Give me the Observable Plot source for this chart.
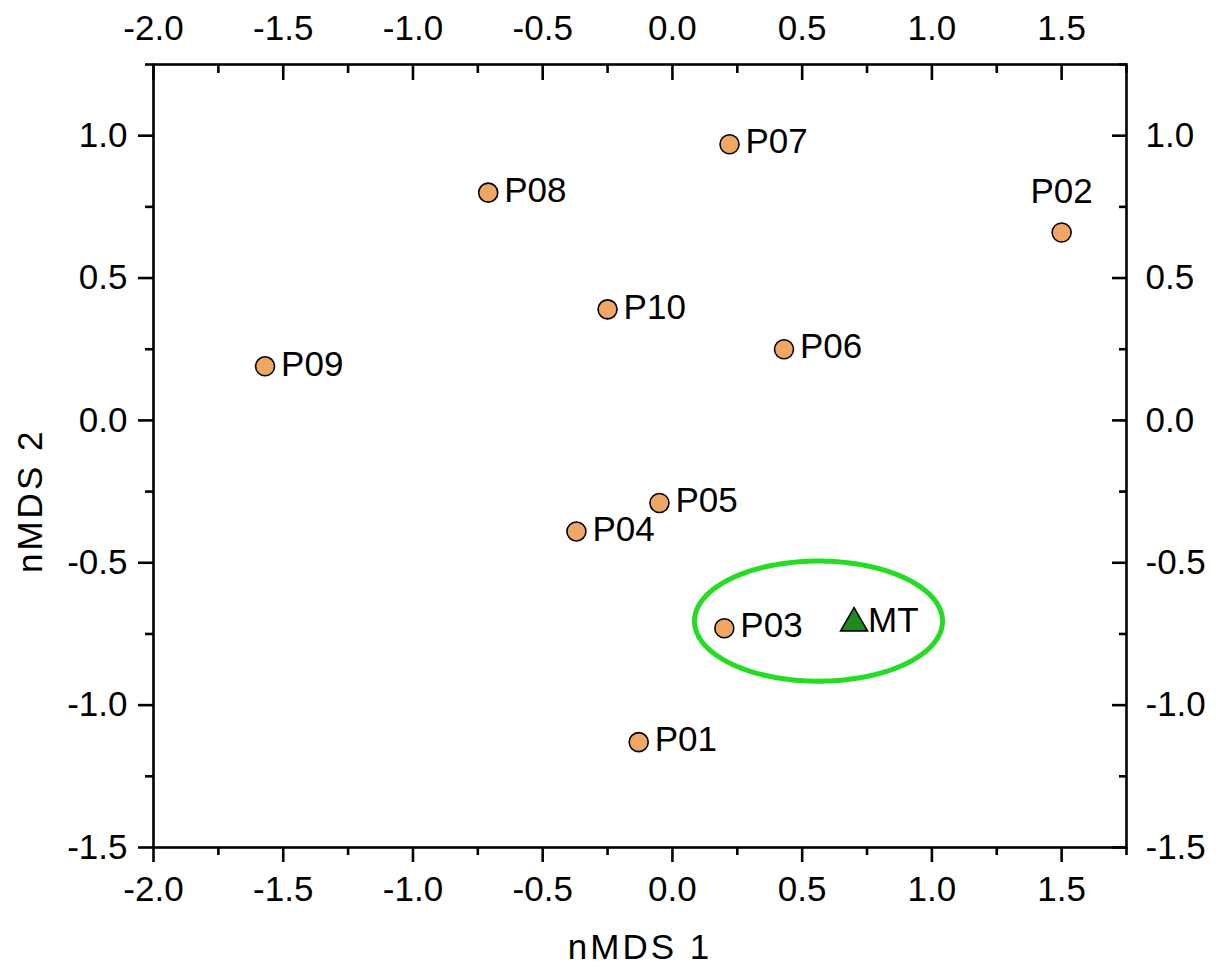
<!DOCTYPE html>
<html>
<head>
<meta charset="utf-8">
<script src="https://cdn.jsdelivr.net/npm/d3@7"></script>
<script src="https://cdn.jsdelivr.net/npm/@observablehq/plot@0.6"></script>
<style>
  html, body { margin: 0; padding: 0; background: #fff; }
  #chart svg { display: block; }
</style>
</head>
<body>
<div id="chart"></div>
<script>
// Sites (nMDS ordination scores)
const siteNames = ["P01", "P02", "P03", "P04", "P05", "P06", "P07", "P08", "P09", "P10"];
const siteNMDS1 = [-0.13, 1.50, 0.20, -0.37, -0.05, 0.43, 0.22, -0.71, -1.57, -0.25];
const siteNMDS2 = [-1.13, 0.66, -0.73, -0.39, -0.29, 0.25, 0.97, 0.80, 0.19, 0.39];

// Reference point
const refNames = ["MT"];
const refNMDS1 = [0.70];
const refNMDS2 = [-0.712];

// Highlight ellipse (center and radii in data units)
const ellipseCenter = [0.563, -0.705];
const ellipseRadii = [0.478, 0.211];

// Ticks
const majorTicksX = [-2.0, -1.5, -1.0, -0.5, 0.0, 0.5, 1.0, 1.5];
const minorTicksX = [-1.75, -1.25, -0.75, -0.25, 0.25, 0.75, 1.25, 1.75];
const majorTicksY = [-1.5, -1.0, -0.5, 0.0, 0.5, 1.0];
const minorTicksY = [-1.25, -0.75, -0.25, 0.25, 0.75, 1.25];

const axisTitleX = "nMDS 1";
const axisTitleY = "nMDS 2";

const sites = siteNames.map((name, i) => ({name, x: siteNMDS1[i], y: siteNMDS2[i]}));
const refs = refNames.map((name, i) => ({name, x: refNMDS1[i], y: refNMDS2[i]}));
const ellipse = d3.range(0, 201).map(k => {
  const t = (k / 200) * 2 * Math.PI;
  return {x: ellipseCenter[0] + ellipseRadii[0] * Math.cos(t), y: ellipseCenter[1] + ellipseRadii[1] * Math.sin(t)};
});

const fmt = v => d3.format(".1f")(v).replace("\u2212", "-");
const noLabel = () => "";
const FS = 35;
const SW = 2.6;

const chart = Plot.plot({
  width: 1218,
  height: 967,
  marginLeft: 153,
  marginRight: 92,
  marginTop: 64,
  marginBottom: 120,
  style: {fontFamily: "'Liberation Sans', Arial, sans-serif", color: "#000", background: "#fff"},
  x: {domain: [-2.0, 1.75]},
  y: {domain: [-1.5, 1.25]},
  marks: [
    // axes: bottom / left outward, top / right inward
    Plot.axisX({anchor: "bottom", ticks: majorTicksX, tickFormat: fmt, tickSize: 15, tickPadding: 14, fontSize: FS, strokeWidth: SW, label: null}),
    Plot.axisX({anchor: "bottom", ticks: minorTicksX, tickFormat: noLabel, tickSize: 8, strokeWidth: SW, label: null}),
    Plot.axisX({anchor: "top", ticks: majorTicksX, tickFormat: fmt, tickSize: -15, tickPadding: 40, fontSize: FS, strokeWidth: SW, label: null}),
    Plot.axisX({anchor: "top", ticks: minorTicksX, tickFormat: noLabel, tickSize: -8, strokeWidth: SW, label: null}),
    Plot.axisY({anchor: "left", ticks: majorTicksY, tickFormat: fmt, tickSize: 15, tickPadding: 11, fontSize: FS, strokeWidth: SW, label: null}),
    Plot.axisY({anchor: "left", ticks: minorTicksY, tickFormat: noLabel, tickSize: 8, strokeWidth: SW, label: null}),
    Plot.axisY({anchor: "right", ticks: majorTicksY, tickFormat: fmt, tickSize: -15, tickPadding: 34, fontSize: FS, strokeWidth: SW, label: null}),
    Plot.axisY({anchor: "right", ticks: minorTicksY, tickFormat: noLabel, tickSize: -8, strokeWidth: SW, label: null}),
    Plot.frame({stroke: "#000", strokeWidth: SW}),
    // axis titles
    Plot.text([axisTitleX], {frameAnchor: "bottom", dy: 100, fontSize: 35, lineAnchor: "middle", fill: "#000"}),
    Plot.text([axisTitleY], {frameAnchor: "left", dx: -123, dy: 117, rotate: -90, fontSize: 35, lineAnchor: "middle", fill: "#000"}),
    // highlight ellipse
    Plot.line(ellipse, {x: "x", y: "y", stroke: "#22dd22", strokeWidth: 5, curve: "linear"}),
    // sites
    Plot.dot(sites, {x: "x", y: "y", r: 9.5, fill: "#f0a765", stroke: "#000", strokeWidth: 1.6}),
    Plot.text(sites.filter(d => d.name !== "P02"), {x: "x", y: "y", text: "name", textAnchor: "start", lineAnchor: "middle", dx: 16, dy: -2, fontSize: FS, fill: "#000"}),
    Plot.text(sites.filter(d => d.name === "P02"), {x: "x", y: "y", text: "name", textAnchor: "middle", lineAnchor: "middle", dy: -41, fontSize: FS, fill: "#000"}),
    // reference
    Plot.dot(refs, {x: "x", y: "y", symbol: "triangle", r: 10, fill: "#1c8c1c", stroke: "#000", strokeWidth: 1.6}),
    Plot.text(refs, {x: "x", y: "y", text: "name", textAnchor: "start", lineAnchor: "middle", dx: 14, dy: -2, fontSize: FS, fill: "#000"})
  ]
});
// the reference's axis titles are set slightly wider
d3.select(chart).selectAll("text")
  .filter(function() { return this.textContent === axisTitleX || this.textContent === axisTitleY; })
  .attr("letter-spacing", "3px");
document.getElementById("chart").appendChild(chart);
</script>
</body>
</html>
